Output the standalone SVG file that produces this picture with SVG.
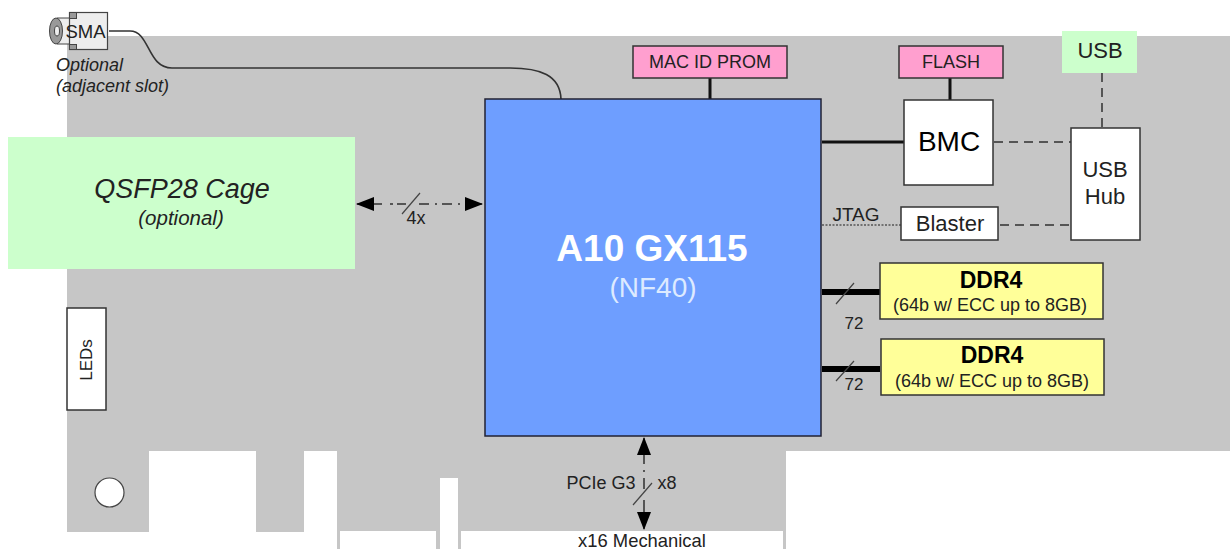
<svg xmlns="http://www.w3.org/2000/svg" width="1230" height="549" viewBox="0 0 1230 549">
<style>
text{font-family:"Liberation Sans",Arial,sans-serif;fill:#222;text-anchor:middle}
.box{stroke:#333;stroke-width:1.5}
.w{fill:#fff}
.y{fill:#ffff99}
.p{fill:#ff9fcf}
.g{fill:#ccffcc}
.thick{stroke:#111;stroke-width:3;fill:none}
.bus{stroke:#000;stroke-width:6;fill:none}
.dash{stroke:#555;stroke-width:2;stroke-dasharray:9 6;fill:none}
.slash{stroke:#444;stroke-width:1.2;fill:none}
.dd{stroke:#555;stroke-width:2;fill:none}
.tab{fill:#999;stroke:#444}
</style>
<defs>
<marker id="a" viewBox="0 0 18 14" refX="17" refY="7" markerWidth="18" markerHeight="14" markerUnits="userSpaceOnUse" orient="auto-start-reverse"><path d="M0 0L18 7L0 14Z" fill="#000"/></marker>
</defs>
<rect width="1230" height="549" fill="#fff"/>
<path id="board" fill="#c6c6c6" d="M67 36H1230V451H786V549H337V451H304V532H256V451H149V532H67Z"/>
<g fill="#fff"><rect x="340" y="531" width="96" height="18"/><rect x="440" y="478" width="18" height="71"/><rect x="461" y="531" width="322" height="18"/></g>
<circle id="hole" cx="109.500" cy="492.500" r="14.500" fill="#fff" stroke="#444" stroke-width="1.200"/>
<g id="connectors">
<path d="M109 31H130C150 31 147 68 172 68H510C540 68 560 75 561 99" fill="none" stroke="#333" stroke-width="1.600"/>
<path class="thick" d="M710 78V99M950 78V100M822 142H904"/>
<path class="dash" d="M994 142H1071M1000 225H1071M1102 73V128"/>
<path d="M822 225H901" fill="none" stroke="#555" stroke-width="1.500" stroke-dasharray="2 1.500"/>
<path class="bus" d="M822 292H880M822 369H880"/>
<path class="slash" d="M836 304L854 283M836 381L854 361"/>
<path class="dd" d="M357 204H482" stroke-dasharray="25 8 3 4 9 13 10 6 2 5 10 6 2 5 30" marker-start="url(#a)" marker-end="url(#a)"/>
<path class="slash" d="M402 214L420 193"/>
<path class="dd" d="M644 438V529" stroke-dasharray="26 6 2 6 11 11 40" marker-start="url(#a)" marker-end="url(#a)"/>
<path class="slash" d="M633 505L652 483"/>
</g>
<g id="sma">
<path d="M57 18H70V44H57Z" fill="#ededed" stroke="#444"/>
<ellipse cx="56" cy="31" rx="6.500" ry="13" fill="#999" stroke="#444"/>
<ellipse cx="57" cy="31" rx="2.500" ry="5" fill="#eee" stroke="#444"/>
<rect x="69.500" y="12.500" width="38" height="37" fill="#ededed" stroke="#444" stroke-width="1.200"/>
<rect class="tab" x="69.500" y="12.500" width="7" height="6"/>
<rect class="tab" x="69.500" y="44.500" width="7" height="5"/>
<text x="85.500" y="38" font-size="18.500">SMA</text>
<text x="56" y="71" font-size="18" font-style="italic" style="text-anchor:start">Optional</text>
<text x="56" y="92" font-size="18" font-style="italic" style="text-anchor:start">(adjacent slot)</text>
</g>
<g id="qsfp"><rect x="8" y="137" width="347" height="132" fill="#ccffcc"/>
<text x="182" y="198" font-size="27" font-style="italic">QSFP28 Cage</text>
<text x="181" y="225" font-size="20.500" font-style="italic">(optional)</text></g>
<text x="416" y="224" font-size="18">4x</text>
<g id="fpga"><rect x="485" y="99" width="336" height="337" fill="#6e9eff" stroke="#223" stroke-width="1.500"/>
<text x="652" y="261" font-size="37" font-weight="bold" style="fill:#fff">A10 GX115</text>
<text x="653" y="297" font-size="28" style="fill:#ddeaff">(NF40)</text></g>
<g id="macid"><rect class="box p" x="633" y="46" width="154" height="32"/><text x="710" y="68" font-size="18">MAC ID PROM</text></g>
<g id="flash"><rect class="box p" x="899" y="46" width="104" height="32"/><text x="951" y="68" font-size="18">FLASH</text></g>
<g id="usb"><rect x="1062" y="31" width="75" height="42" fill="#ccffcc"/><text x="1100" y="58" font-size="22">USB</text></g>
<g id="bmc"><rect class="box w" x="904" y="100" width="89" height="85"/><text x="949" y="151" font-size="28" style="fill:#000">BMC</text></g>
<g id="hub"><rect class="box w" x="1071" y="128" width="69" height="112"/><text x="1105" y="177" font-size="22">USB</text><text x="1105" y="204" font-size="22">Hub</text></g>
<g id="blaster"><rect class="box w" x="901" y="207" width="97" height="33"/><text x="950" y="231" font-size="22">Blaster</text></g>
<text x="856" y="221" font-size="19">JTAG</text>
<g id="ddr1"><rect class="box y" x="880" y="263" width="223" height="56"/><text x="991" y="288" font-size="23" font-weight="bold" style="fill:#000">DDR4</text><text x="990" y="311" font-size="18">(64b w/ ECC up to 8GB)</text></g>
<g id="ddr2"><rect class="box y" x="881" y="339" width="223" height="56"/><text x="992" y="363" font-size="23" font-weight="bold" style="fill:#000">DDR4</text><text x="992" y="387" font-size="18">(64b w/ ECC up to 8GB)</text></g>
<text x="854" y="329" font-size="17">72</text>
<text x="854" y="390" font-size="17">72</text>
<g id="leds"><rect class="box w" x="67" y="308" width="39" height="102"/><text transform="translate(92 360) rotate(-90)" font-size="17">LEDs</text></g>
<text x="601" y="489" font-size="18">PCIe G3</text>
<text x="667" y="489" font-size="18">x8</text>
<text x="642" y="547" font-size="18.400">x16 Mechanical</text>
</svg>
